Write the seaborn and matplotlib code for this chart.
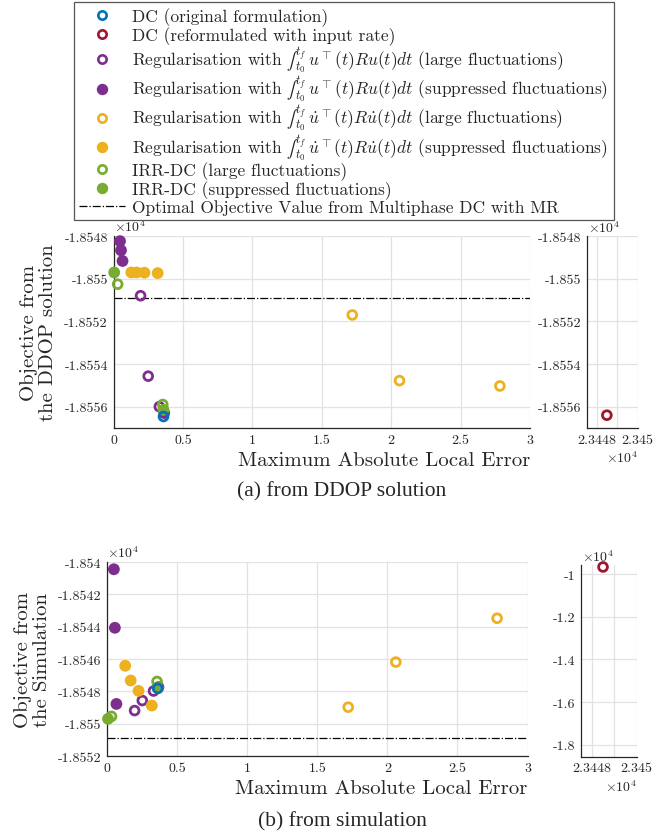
"""Objective value vs. maximum absolute local error for the DC variants.

Two panels (DDOP solution / simulation), each with a broken x-axis so the
input-rate reformulation (error ~2.3448e4) gets its own narrow axes.
"""

import matplotlib

matplotlib.use("Agg")

import matplotlib.pyplot as plt
import pandas as pd
import seaborn as sns
from matplotlib.lines import Line2D
from matplotlib.ticker import FuncFormatter

# Values in raw units; the axes show them scaled by 1e4 (MATLAB style).
DC_ORIG_ERR = [0.36]
DC_ORIG_DDOP = [-18556.46]
DC_ORIG_SIM = [-18547.82]

DC_RATE_ERR = [23448.5]
DC_RATE_DDOP = [-18556.4]
DC_RATE_SIM = [-9672.0]

REG_U_LARGE_ERR = [0.195, 0.25, 0.33]
REG_U_LARGE_DDOP = [-18550.8, -18554.57, -18556.0]
REG_U_LARGE_SIM = [-18549.19, -18548.57, -18547.98]

REG_U_SUPP_ERR = [0.047, 0.054, 0.065, 0.365]
REG_U_SUPP_DDOP = [-18548.24, -18548.67, -18549.17, -18556.3]
REG_U_SUPP_SIM = [-18540.45, -18544.07, -18548.78, -18547.74]

REG_DU_LARGE_ERR = [1.72, 2.06, 2.783]
REG_DU_LARGE_DDOP = [-18551.70, -18554.78, -18555.03]
REG_DU_LARGE_SIM = [-18548.98, -18546.19, -18543.48]

REG_DU_SUPP_ERR = [0.128, 0.167, 0.223, 0.318]
REG_DU_SUPP_DDOP = [-18549.71, -18549.71, -18549.72, -18549.74]
REG_DU_SUPP_SIM = [-18546.42, -18547.33, -18547.97, -18548.88]

IRR_LARGE_ERR = [0.03, 0.355]
IRR_LARGE_DDOP = [-18550.26, -18555.9]
IRR_LARGE_SIM = [-18549.55, -18547.39]

IRR_SUPP_ERR = [0.005, 0.36]
IRR_SUPP_DDOP = [-18549.71, -18556.15]
IRR_SUPP_SIM = [-18549.7, -18547.8]

# Optimal objective from multiphase DC with mesh refinement
MR_OPTIMUM = -18550.9

MAIN_XTICKS = [0, 0.5, 1, 1.5, 2, 2.5, 3]
SIDE_XTICKS = [23448, 23449, 23450]
SIDE_XTICK_LABELS = ["2.3448", "", "2.345"]
DDOP_YTICKS = [-18556, -18554, -18552, -18550, -18548]
SIM_YTICKS = [-18552, -18550, -18548, -18546, -18544, -18542, -18540]
SIM_SIDE_YTICKS = [-18000, -16000, -14000, -12000, -10000]

# inline-sized integral (the cm \int glyph is display size)
INT_U = r"$∫_{t_0}^{t_f}\,u^{\top}(t)Ru(t)dt$"
INT_DU = r"$∫_{t_0}^{t_f}\,\dot{u}^{\top}(t)R\dot{u}(t)dt$"

# method -> (legend label, colour, filled)
METHODS = {
    "dc_orig": ("DC (original formulation)", "#0072BD", False),
    "dc_rate": ("DC (reformulated with input rate)", "#A2142F", False),
    "reg_u_large": (f"Regularisation with {INT_U} (large fluctuations)", "#7E2F8E", False),
    "reg_u_supp": (f"Regularisation with {INT_U} (suppressed fluctuations)", "#7E2F8E", True),
    "reg_du_large": (f"Regularisation with {INT_DU} (large fluctuations)", "#EDB120", False),
    "reg_du_supp": (f"Regularisation with {INT_DU} (suppressed fluctuations)", "#EDB120", True),
    "irr_large": ("IRR-DC (large fluctuations)", "#77AC30", False),
    "irr_supp": ("IRR-DC (suppressed fluctuations)", "#77AC30", True),
}

MR_LABEL = "Optimal Objective Value from Multiphase DC with MR"

W, H = 671, 837


def build_frame() -> pd.DataFrame:
    parts = {
        "dc_orig": (DC_ORIG_ERR, DC_ORIG_DDOP, DC_ORIG_SIM),
        "dc_rate": (DC_RATE_ERR, DC_RATE_DDOP, DC_RATE_SIM),
        "reg_u_large": (REG_U_LARGE_ERR, REG_U_LARGE_DDOP, REG_U_LARGE_SIM),
        "reg_u_supp": (REG_U_SUPP_ERR, REG_U_SUPP_DDOP, REG_U_SUPP_SIM),
        "reg_du_large": (REG_DU_LARGE_ERR, REG_DU_LARGE_DDOP, REG_DU_LARGE_SIM),
        "reg_du_supp": (REG_DU_SUPP_ERR, REG_DU_SUPP_DDOP, REG_DU_SUPP_SIM),
        "irr_large": (IRR_LARGE_ERR, IRR_LARGE_DDOP, IRR_LARGE_SIM),
        "irr_supp": (IRR_SUPP_ERR, IRR_SUPP_DDOP, IRR_SUPP_SIM),
    }
    frames = []
    for method, (err, ddop, sim) in parts.items():
        frames.append(pd.DataFrame({"method": method, "err": err, "ddop": ddop, "sim": sim}))
    return pd.concat(frames, ignore_index=True)


def px_axes(fig, left, top, right, bottom):
    """Add axes from pixel box (origin top-left)."""
    return fig.add_axes([left / W, 1 - bottom / H, (right - left) / W, (bottom - top) / H])


def style_axes(ax):
    ax.grid(True, color="#e2e2e2", linewidth=0.9)
    ax.set_axisbelow(True)
    for side in ("top", "right"):
        ax.spines[side].set_visible(False)
    for side in ("left", "bottom"):
        ax.spines[side].set_color("#262626")
        ax.spines[side].set_linewidth(0.9)
    ax.tick_params(direction="in", length=3, labelsize=10, colors="#262626", pad=4)
    ax.set_xlabel("")
    ax.set_ylabel("")


scaled = FuncFormatter(lambda v, _: f"{v / 1e4:g}")


def draw_points(ax, df, ycol, methods):
    for z, method in enumerate(methods):
        _, color, filled = METHODS[method]
        sub = df[df["method"] == method]
        if filled:
            kws = dict(color=color, edgecolor="none", s=72, linewidth=0)
        else:
            kws = dict(facecolor="none", edgecolor=color, s=40, linewidth=2.0)
        # MATLAB does not clip markers at the axes edge
        sns.scatterplot(data=sub, x="err", y=ycol, ax=ax, legend=False,
                        zorder=3 + z, clip_on=False, **kws)


MAIN_ORDER = ["reg_u_large", "reg_u_supp", "reg_du_large", "reg_du_supp",
              "irr_large", "irr_supp", "dc_orig"]


def draw_panel(fig, df, ycol, main_box, side_box, ylim, yticks, side_ylim,
               side_yticks, ylabel, ylabel_x):
    ax = px_axes(fig, *main_box)
    side = px_axes(fig, *side_box)
    draw_points(ax, df, ycol, MAIN_ORDER)
    draw_points(side, df, ycol, ["dc_rate"])
    ax.axhline(MR_OPTIMUM, color="black", linestyle="-.", linewidth=0.9, zorder=2)

    ax.set_xlim(0, 3)
    ax.set_xticks(MAIN_XTICKS)
    ax.set_xticklabels([f"{t:g}" for t in MAIN_XTICKS])
    ax.set_ylim(*ylim)
    ax.set_yticks(yticks)
    ax.yaxis.set_major_formatter(scaled)

    side.set_xlim(23447.52, 23450)
    side.set_xticks(SIDE_XTICKS)
    side.set_xticklabels(SIDE_XTICK_LABELS)
    side.set_ylim(*side_ylim)
    side.set_yticks(side_yticks)
    side.yaxis.set_major_formatter(scaled)

    for a in (ax, side):
        style_axes(a)

    ax.set_ylabel(ylabel, fontsize=15, linespacing=1.1)
    ax.yaxis.set_label_coords(ylabel_x, 0.5)
    ax.yaxis.label.set_verticalalignment("center")
    ax.set_xlabel("Maximum Absolute Local Error", fontsize=15, color="#262626")
    ax.xaxis.set_label_coords(1.0, -0.165)
    ax.xaxis.label.set_horizontalalignment("right")
    ax.xaxis.label.set_verticalalignment("center")

    exp = r"$\times10^{4}$"
    ax.text(0.0, 1.05, exp, transform=ax.transAxes, ha="left", va="center",
            fontsize=10, color="#262626")
    side.text(0.02, 1.045, exp, transform=side.transAxes, ha="left", va="center",
              fontsize=10, color="#262626")
    side.text(1.0, -0.152, exp, transform=side.transAxes, ha="right", va="center",
              fontsize=10, color="#262626")
    return ax, side


def main() -> None:
    sns.set_style("whitegrid")
    plt.rcParams["font.family"] = ["cmr10", "DejaVu Serif"]
    plt.rcParams["mathtext.fontset"] = "cm"
    plt.rcParams["axes.unicode_minus"] = False
    plt.rcParams["axes.formatter.use_mathtext"] = True

    df = build_frame()
    fig = plt.figure(figsize=(W / 100, H / 100), dpi=100)

    draw_panel(fig, df, "ddop", (113.5, 237, 530, 429), (586.7, 237, 637.7, 429),
               (-18557, -18548), DDOP_YTICKS, (-18557, -18548), DDOP_YTICKS,
               "Objective from\nthe DDOP solution", -0.18)
    draw_panel(fig, df, "sim", (107.3, 563, 527.5, 757), (581, 565.7, 636.7, 757.7),
               (-18552, -18540), SIM_YTICKS, (-18552, -9565), SIM_SIDE_YTICKS,
               "Objective from\nthe Simulation", -0.178)

    fig.text(342 / W, 1 - 492 / H, "(a) from DDOP solution", ha="center", va="center",
             fontsize=15.5, family="Liberation Serif")
    fig.text(342 / W, 1 - 822 / H, "(b) from simulation", ha="center", va="center",
             fontsize=15.5, family="Liberation Serif")

    handles = []
    labels = []
    for label, color, filled in METHODS.values():
        if filled:
            h = Line2D([], [], linestyle="none", marker="o", markersize=8.2,
                       markerfacecolor=color, markeredgecolor=color, markeredgewidth=0)
        else:
            h = Line2D([], [], linestyle="none", marker="o", markersize=6,
                       markerfacecolor="none", markeredgecolor=color, markeredgewidth=1.9)
        handles.append(h)
        labels.append(label)
    handles.append(Line2D([], [], color="black", linestyle="-.", linewidth=0.9))
    labels.append(MR_LABEL)

    leg = fig.legend(handles, labels, loc="upper center",
                     bbox_to_anchor=(344 / W, 1 - 3 / H), fontsize=12.5,
                     frameon=True, fancybox=False, framealpha=1, edgecolor="#555555",
                     handlelength=2.6, handletextpad=0.45, borderpad=0.3,
                     labelspacing=0.0, borderaxespad=0)
    leg.get_frame().set_linewidth(0.9)

    fig.savefig("out.png", dpi=100)
    plt.close(fig)


if __name__ == "__main__":
    main()
